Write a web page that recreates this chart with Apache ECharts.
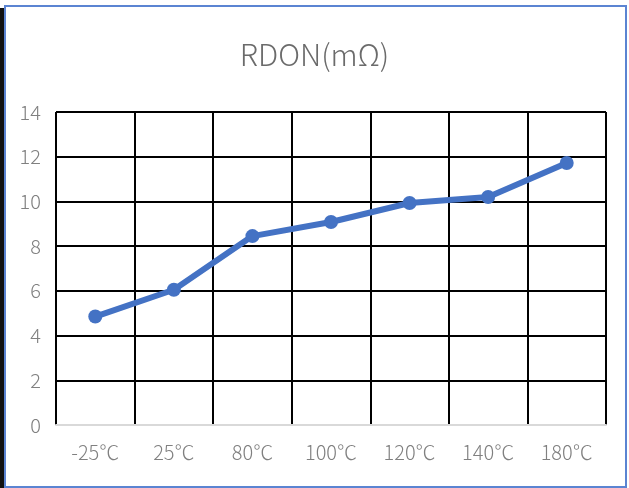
<!DOCTYPE html>
<html><head><meta charset="utf-8">
<script src="https://cdn.jsdelivr.net/npm/echarts@6/dist/echarts.min.js"></script>
<style>
html,body{margin:0;padding:0;background:#fff;}
#wrap{position:relative;width:629px;height:488px;overflow:hidden;}
#blk{position:absolute;left:0;top:8px;width:4px;height:480px;background:#111;}
#frame{position:absolute;left:4px;top:5px;width:619px;height:479px;border:2px solid #5b84d2;box-sizing:content-box;}
#chart{position:absolute;left:0;top:0;width:629px;height:488px;}
</style></head>
<body><div id="wrap"><div id="blk"></div><div id="frame"></div><div id="chart"></div></div>
<script>
const title = 'RDON(mΩ)';
const categories = ['-25℃','25℃','80℃','100℃','120℃','140℃','180℃'];
const values = [4.85, 6.05, 8.45, 9.08, 9.93, 10.2, 11.72];
const yTicks = [0, 2, 4, 6, 8, 10, 12, 14];

const font = '"Noto Sans CJK SC", "Noto Sans", sans-serif';
const chart = echarts.init(document.getElementById('chart'), null, {renderer:'canvas'});
chart.setOption({
  animation:false,
  backgroundColor:'transparent',
  title:{text:title,left:'center',top:35,textStyle:{fontFamily:font,fontSize:30,fontWeight:300,color:'#6b6b6b'}},
  grid:{left:56,right:23,top:112,bottom:63,containLabel:false},
  xAxis:{type:'category',data:categories,boundaryGap:true,
    axisLine:{show:true,lineStyle:{color:'#d9d9d9',width:2}},
    axisTick:{show:false},
    axisLabel:{color:'#808080',fontFamily:font,fontSize:20,fontWeight:300,margin:17},
    splitLine:{show:true,interval:0,lineStyle:{color:'#000',width:2}}},
  yAxis:{type:'value',min:yTicks[0],max:yTicks[yTicks.length-1],interval:2,
    axisLine:{show:false},axisTick:{show:false},
    axisLabel:{color:'#808080',fontFamily:font,fontSize:20,fontWeight:300,margin:15},
    splitLine:{show:true,lineStyle:{color:['#d9d9d9','#000','#000','#000','#000','#000','#000','#000'],width:2}}},
  series:[{type:'line',data:values,symbol:'circle',symbolSize:14,
    lineStyle:{color:'#4472c4',width:6},itemStyle:{color:'#4472c4'},z:5}]
});
</script></body></html>
